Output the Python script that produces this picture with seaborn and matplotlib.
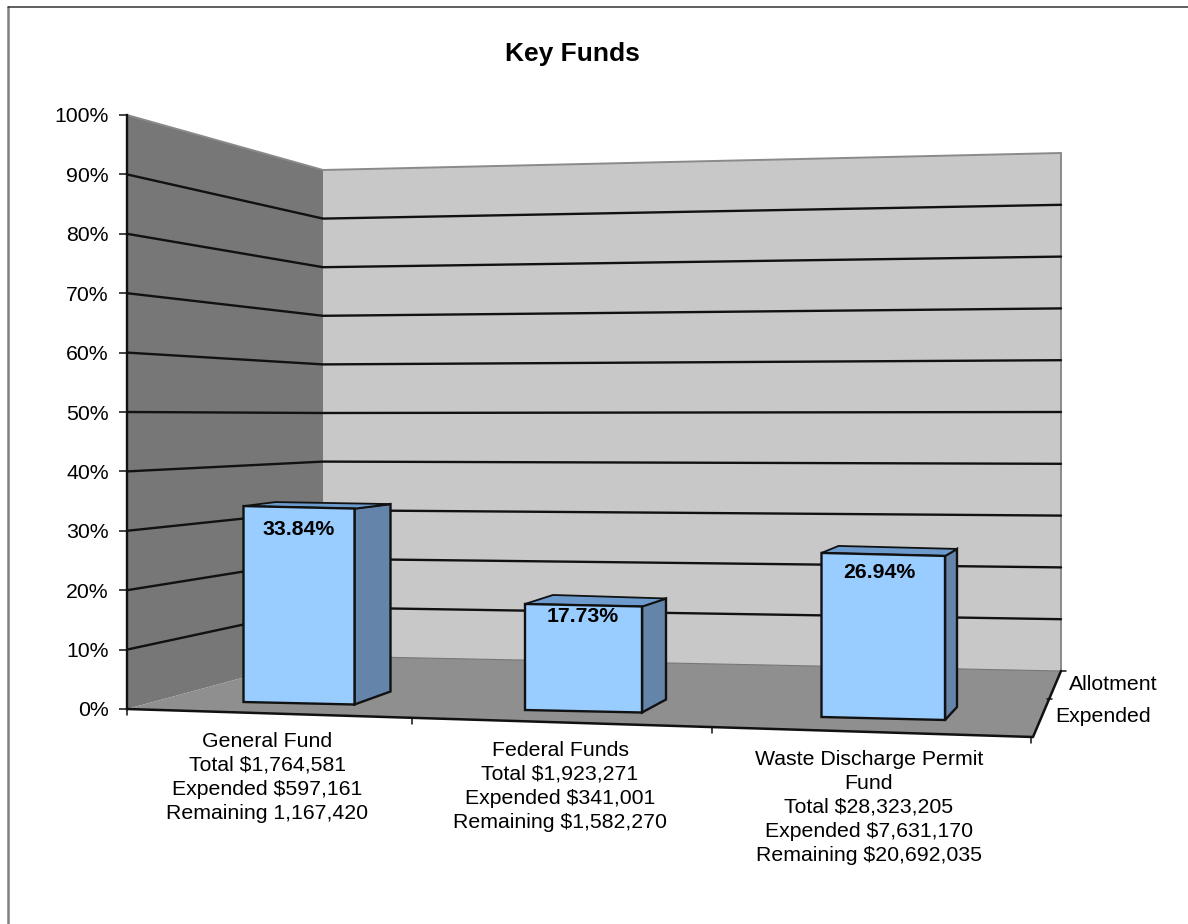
import pandas as pd
import seaborn as sns
import matplotlib.pyplot as plt
from matplotlib.patches import Polygon
from matplotlib.transforms import Affine2D

# Chart values
funds = ['General Fund', 'Federal Funds', 'Waste Discharge Permit Fund']
expended_pct = [33.84, 17.73, 26.94]
fund_labels = [
    'General Fund\nTotal $1,764,581\nExpended $597,161\nRemaining 1,167,420',
    'Federal Funds\nTotal $1,923,271\nExpended $341,001\nRemaining $1,582,270',
    'Waste Discharge Permit\nFund\nTotal $28,323,205\nExpended $7,631,170\nRemaining $20,692,035',
]
series_labels = ['Allotment', 'Expended']
pct_ticks = [0, 10, 20, 30, 40, 50, 60, 70, 80, 90, 100]

# Fake 3D layout, in pixels of the 1188x924 figure
AX_LEFT, AX_RIGHT, AX_TOP, AX_BASE = 127, 1033, 115, 709
PX_PER_PCT = (AX_BASE - AX_TOP) / 100
bar_left = [243.5, 525, 821.5]
bar_width = [111, 117, 123.5]
bar_base = [702, 710, 717]
bar_scale = [5.79, 5.98, 6.09]   # px per percent, bars nearer the viewer are taller
bar_drop = [2.5, 2.5, 3]
side_depth = [36, 24, 12]
top_left_depth = [32, 28, 17]
top_left_rise = [4, 9, 7]
top_right_rise = [4.5, 8, 7]
label_center = [267.5, 560, 869]
label_top = [732, 741, 750]
value_center = [298.5, 583, 879]
value_offset = [23, 13, 20]

sns.set_theme(style='white')
plt.rcParams['font.family'] = ['Liberation Sans', 'DejaVu Sans']

fig = plt.figure(figsize=(11.88, 9.24), dpi=100)

# Background layer for walls, floor and gridlines
bg = fig.add_axes([0, 0, 1, 1], zorder=0)
bg.set_xlim(0, 1188)
bg.set_ylim(924, 0)
bg.axis('off')

# outer frame, only left and top are visible in the picture
bg.plot([8, 8], [7, 924], color='#808080', lw=1.8)
bg.plot([8, 1188], [7, 7], color='#333333', lw=1.1)

wall_x = 323
back_x = 1061


def left_y(p):
    return 656 - p * (656 - 170) / 100


def right_y(p):
    return 671 - p * (671 - 153) / 100


bg.add_patch(Polygon([(AX_LEFT, AX_TOP), (wall_x, left_y(100)), (wall_x, left_y(0)), (AX_LEFT, AX_BASE)],
                     facecolor='#777777', edgecolor='none'))
bg.add_patch(Polygon([(wall_x, left_y(100)), (back_x, right_y(100)), (back_x, right_y(0)), (wall_x, left_y(0))],
                     facecolor='#c8c8c8', edgecolor='none'))
bg.add_patch(Polygon([(AX_LEFT, AX_BASE), (wall_x, left_y(0)), (back_x, right_y(0)), (AX_RIGHT, 737)],
                     facecolor='#8f8f8f', edgecolor='none'))
# light grey top edges of the walls
bg.plot([AX_LEFT, wall_x, back_x], [AX_TOP, left_y(100), right_y(100)], color='#8a8a8a', lw=1.4)
bg.plot([back_x, back_x], [right_y(100), right_y(0)], color='#8a8a8a', lw=1.4)
bg.plot([wall_x, back_x], [left_y(0), right_y(0)], color='#777777', lw=0.8)

for p in pct_ticks[1:-1]:
    y0 = AX_BASE - p * PX_PER_PCT
    bg.plot([AX_LEFT, wall_x, back_x], [y0, left_y(p), right_y(p)], color='#111111', lw=1.7)

# floor front and right edges with their ticks
bg.plot([AX_LEFT, AX_RIGHT, back_x], [AX_BASE, 737, right_y(0)], color='#111111', lw=1.8)
for tx in [AX_LEFT, 412, 712, AX_RIGHT - 2]:
    ty = AX_BASE + (tx - AX_LEFT) * (737 - AX_BASE) / (AX_RIGHT - AX_LEFT)
    bg.plot([tx, tx], [ty, ty + 6], color='#111111', lw=1.1)
bg.plot([1061, 1066], [671, 671], color='#111111', lw=1.1)
bg.plot([1047, 1052], [699, 699], color='#111111', lw=1.1)

# Front axis, the bars live here
ax = fig.add_axes([AX_LEFT / 1188, (924 - AX_BASE) / 924, (AX_RIGHT - AX_LEFT) / 1188, (AX_BASE - AX_TOP) / 924],
                  zorder=1)
ax.patch.set_visible(False)

df = pd.DataFrame({'fund': funds, 'pct': expended_pct})
sns.barplot(data=df, x='fund', y='pct', color='#99ccff', saturation=1,
            edgecolor='#111111', linewidth=1.7, ax=ax)
ax.set_xlim(-0.5, 2.5)
ax.set_ylim(0, 100)
ax.set_xlabel('')
ax.set_ylabel('')
ax.set_xticks([])
ax.set_yticks(pct_ticks)
ax.set_yticklabels([f'{p}%' for p in pct_ticks], fontsize=15.3, color='black')
ax.tick_params(axis='y', left=True, length=6, width=1.1, color='#111111', pad=7)
sns.despine(ax=ax, left=False, bottom=True)
ax.spines['left'].set_color('#111111')
ax.spines['left'].set_linewidth(1.7)
fig.canvas.draw()

# Move each bar onto its place on the floor and draw the side and top faces
for i, patch in enumerate(ax.patches):
    val = expended_pct[i]
    left, right = bar_left[i], bar_left[i] + bar_width[i]
    base = bar_base[i]
    top = base - val * bar_scale[i]
    drop = bar_drop[i]

    patch.set_x((left - AX_LEFT) / ((AX_RIGHT - AX_LEFT) / 3) - 0.5)
    patch.set_width(bar_width[i] / ((AX_RIGHT - AX_LEFT) / 3))
    patch.set_y((AX_BASE - base) / PX_PER_PCT)
    patch.set_height(val * bar_scale[i] / PX_PER_PCT)
    slope = -drop / bar_width[i]
    shear = Affine2D.from_values(1, slope, 0, 1, 0, -slope * left)
    patch.set_transform(ax.transData + shear)
    patch.set_clip_on(False)

    dx = side_depth[i]
    bg.add_patch(Polygon([(right, top + drop), (right, base + drop), (right + dx, base + drop - 13),
                          (right + dx, top + drop - top_right_rise[i])],
                         facecolor='#6484aa', edgecolor='#111111', linewidth=1.7, zorder=5))
    bg.add_patch(Polygon([(left, top), (right, top + drop), (right + dx, top + drop - top_right_rise[i]),
                          (left + top_left_depth[i], top - top_left_rise[i])],
                         facecolor='#6d9bce', edgecolor='#111111', linewidth=1.3, zorder=5))
    ax.text(value_center[i], top + value_offset[i], f'{val:.2f}%', transform=bg.transData,
            ha='center', va='center', fontsize=15.3, fontweight='bold', color='black', zorder=6)

for center, top_y, lab in zip(label_center, label_top, fund_labels):
    bg.text(center, top_y, lab, ha='center', va='top', fontsize=15.3, color='black', linespacing=1.33)

bg.text(1069, 685, series_labels[0], ha='left', va='center', fontsize=15.3, color='black')
bg.text(1055, 717, series_labels[1], ha='left', va='center', fontsize=15.3, color='black')
bg.text(572.5, 54.5, 'Key Funds', ha='center', va='center', fontsize=19, fontweight='bold', color='black')

fig.savefig('out.png', dpi=100)
